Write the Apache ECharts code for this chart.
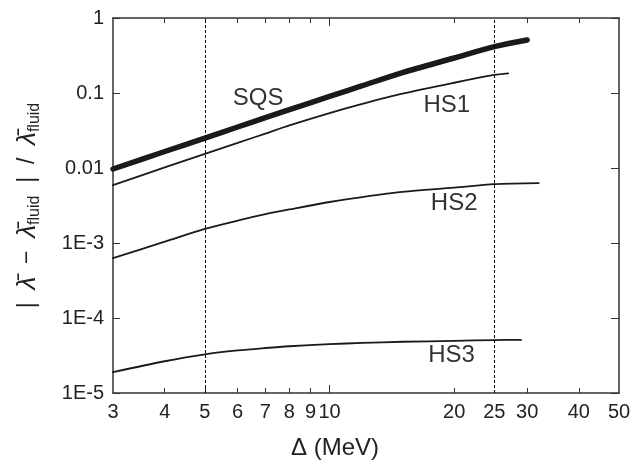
<!DOCTYPE html>
<html>
<head>
<meta charset="utf-8">
<script src="https://cdn.jsdelivr.net/npm/echarts@6/dist/echarts.min.js"></script>
<style>
html,body{margin:0;padding:0;background:#fff;}
#chart{width:633px;height:461px;}
</style>
</head>
<body>
<div id="chart"></div>
<script>
// ---- data ----
const sqsX = [3, 4, 5, 6, 7, 8, 10, 12, 15, 20, 25, 30];
const sqsY = [0.0097, 0.0166, 0.025, 0.0352, 0.047, 0.060, 0.090, 0.125, 0.187, 0.293, 0.415, 0.51];

const hs1X = [3, 4, 5, 6, 7, 8, 10, 12, 15, 20, 25, 27];
const hs1Y = [0.0059, 0.0102, 0.0154, 0.0216, 0.0288, 0.037, 0.054, 0.0716, 0.098, 0.137, 0.174, 0.183];

const hs2X = [3, 4, 5, 6, 7, 8, 10, 12, 15, 20, 25, 32];
const hs2Y = [0.00063, 0.00104, 0.00154, 0.00199, 0.00242, 0.0028, 0.00352, 0.0041, 0.0048, 0.00547, 0.0061, 0.0063];

const hs3X = [3, 4, 5, 6, 7, 8, 10, 12, 15, 20, 25, 29];
const hs3Y = [1.9e-5, 2.65e-5, 3.28e-5, 3.7e-5, 3.98e-5, 4.2e-5, 4.48e-5, 4.65e-5, 4.82e-5, 4.96e-5, 5.08e-5, 5.1e-5];

const xTickLabels = [3, 4, 5, 6, 7, 8, 9, 10, 20, 25, 30, 40, 50];
const xMinorTicks = [4, 5, 6, 7, 8, 9, 20, 30, 40];
const xMajorTicks = [10];
const yTickValues = [1e-5, 1e-4, 1e-3, 0.01, 0.1, 1];
const yTickLabels = ['1E-5', '1E-4', '1E-3', '0.01', '0.1', '1'];
const refLines = [5, 25];

const seriesNames = ['SQS', 'HS1', 'HS2', 'HS3'];
const labelAnchors = [[6.72, 0.0858], [19.2, 0.0692], [20.0, 0.00341], [19.7, 3.21e-5]];

function pairs(xs, ys) { return xs.map((x, i) => [x, ys[i]]); }

const FONT = 'Liberation Sans, Arial, Helvetica, sans-serif';
const INK = '#1a1a1a';
const AX = '#333';

function yLabel(v) {
  let best = 0, bd = Infinity;
  yTickValues.forEach((t, i) => {
    const d = Math.abs(Math.log10(v) - Math.log10(t));
    if (d < bd) { bd = d; best = i; }
  });
  return yTickLabels[best];
}

const chart = echarts.init(document.getElementById('chart'), null, { renderer: 'canvas' });

const baseX = {
  type: 'log', logBase: 10, min: 3, max: 50,
  splitLine: { show: false }, minorTick: { show: false }, minorSplitLine: { show: false }
};
const baseY = {
  type: 'log', logBase: 10, min: 1e-5, max: 1,
  splitLine: { show: false }, minorTick: { show: false }, minorSplitLine: { show: false }
};

const dataSets = [pairs(sqsX, sqsY), pairs(hs1X, hs1Y), pairs(hs2X, hs2Y), pairs(hs3X, hs3Y)];
const widths = [5.5, 1.8, 1.8, 1.8];

const series = dataSets.map((d, i) => ({
  name: seriesNames[i],
  type: 'line',
  xAxisIndex: 0, yAxisIndex: 0,
  data: d,
  smooth: 0.3,
  showSymbol: false,
  symbol: 'none',
  lineStyle: { color: INK, width: widths[i], cap: 'round' },
  silent: true,
  animation: false,
  markPoint: {
    symbol: 'circle', symbolSize: 0, silent: true,
    label: { show: true, formatter: seriesNames[i], color: '#333', fontSize: 24, fontFamily: FONT, position: 'inside' },
    data: [{ coord: labelAnchors[i] }]
  },
  markLine: i === 0 ? {
    symbol: 'none', silent: true, animation: false,
    lineStyle: { type: [3, 2], color: '#000', width: 1 },
    label: { show: false },
    data: refLines.map(v => ({ xAxis: v }))
  } : undefined
}));

chart.setOption({
  animation: false,
  backgroundColor: '#fff',
  grid: { left: 113, right: 14, top: 18, bottom: 68, containLabel: false, outerBoundsMode: 'none' },
  xAxis: [
    Object.assign({}, baseX, {
      position: 'bottom',
      axisLine: { show: true, lineStyle: { color: AX, width: 1.5 } },
      axisTick: { show: true, inside: true, length: 5, lineStyle: { color: AX, width: 1 }, customValues: xMinorTicks },
      axisLabel: {
        show: true, customValues: xTickLabels, fontSize: 20, fontFamily: FONT, color: '#222', margin: 9,
        formatter: v => (Math.abs(v - 25) < 1e-6 ? '{r|25}' : String(Math.round(v))),
        rich: { r: { fontSize: 20, fontFamily: FONT, color: '#222', padding: [0, 0, 8, 0] } }
      },
      name: 'Δ (MeV)', nameLocation: 'middle', nameGap: 43,
      nameTextStyle: { fontSize: 24, fontFamily: FONT, color: '#222', padding: [0, 62, 0, 0] }
    }),
    Object.assign({}, baseX, {
      position: 'top',
      axisLine: { show: true, lineStyle: { color: AX, width: 1.5 } },
      axisTick: { show: true, inside: true, length: 5, lineStyle: { color: AX, width: 1 }, customValues: xMinorTicks },
      axisLabel: { show: false }
    }),
    Object.assign({}, baseX, {
      position: 'bottom',
      axisLine: { show: false },
      axisTick: { show: true, inside: true, length: 8, lineStyle: { color: AX, width: 1 }, customValues: xMajorTicks },
      axisLabel: { show: false }
    }),
    Object.assign({}, baseX, {
      position: 'top',
      axisLine: { show: false },
      axisTick: { show: true, inside: true, length: 8, lineStyle: { color: AX, width: 1 }, customValues: xMajorTicks },
      axisLabel: { show: false }
    })
  ],
  yAxis: [
    Object.assign({}, baseY, {
      position: 'left',
      axisLine: { show: true, lineStyle: { color: AX, width: 1.5 } },
      axisTick: { show: true, inside: true, length: 7, lineStyle: { color: AX, width: 1 }, customValues: yTickValues },
      axisLabel: { show: true, customValues: yTickValues, fontSize: 20, fontFamily: FONT, color: '#222', margin: 9, formatter: yLabel },
      name: '{t||  }{l|λ\u0304}{t|  −  }{l|λ\u0304}{s|fluid}{t|  |  /  }{l|λ\u0304}{s|fluid}',
      nameLocation: 'middle', nameGap: 70, nameRotate: 90,
      nameTextStyle: {
        fontSize: 23, fontFamily: FONT, color: '#222',
        rich: {
          t: { fontSize: 23, fontFamily: FONT, color: '#222', lineHeight: 30 },
          l: { fontSize: 26, fontFamily: FONT, fontStyle: 'italic', color: '#222', lineHeight: 30 },
          s: { fontSize: 16, fontFamily: FONT, color: '#222', lineHeight: 16, verticalAlign: 'bottom' }
        }
      }
    }),
    Object.assign({}, baseY, {
      position: 'right',
      axisLine: { show: true, lineStyle: { color: AX, width: 1.5 } },
      axisTick: { show: true, inside: true, length: 8, lineStyle: { color: AX, width: 1 }, customValues: yTickValues },
      axisLabel: { show: false }
    })
  ],
  series: series
});
</script>
</body>
</html>
